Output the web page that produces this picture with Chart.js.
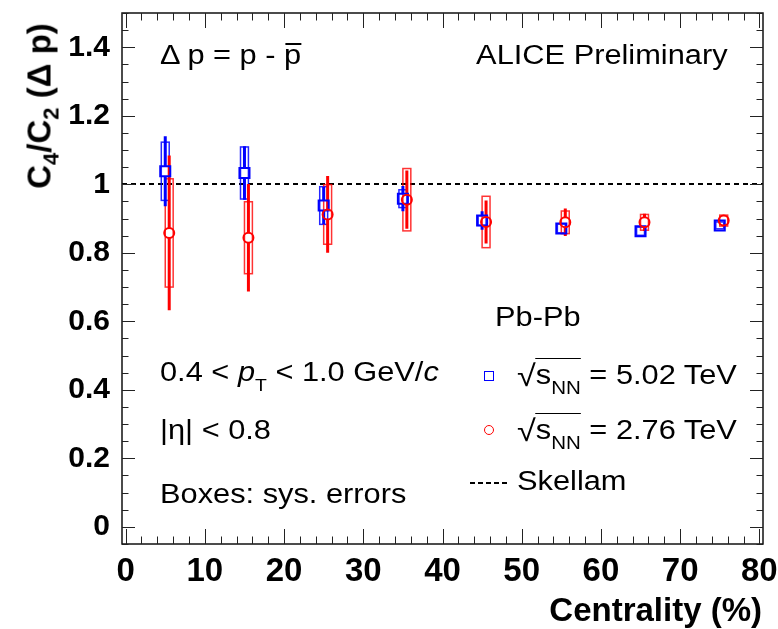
<!DOCTYPE html>
<html><head><meta charset="utf-8">
<script src="https://cdn.jsdelivr.net/npm/chart.js@4.4.1/dist/chart.umd.min.js"></script>
<style>
html,body{margin:0;padding:0;background:#fff;}
#wrap{position:relative;width:778px;height:629px;overflow:hidden;font-family:"Liberation Sans",Arial,Helvetica,sans-serif;color:#000;}
canvas{position:absolute;left:0;top:0;}
.t{position:absolute;white-space:nowrap;line-height:1;font-size:27px;transform:scaleX(1.14);transform-origin:left center;}
.r{transform-origin:right center;}
.sub{font-size:18px;position:relative;top:10px;}
.ovl{border-top:1.5px solid #000;padding-top:1px;}
.rad{font-size:30px;position:relative;top:2px;}
#ytitle{position:absolute;left:39px;top:106px;white-space:nowrap;line-height:1;font-size:33px;font-weight:bold;transform:translate(-50%,-50%) rotate(-90deg);}
#xtitle{position:absolute;right:16px;top:593px;white-space:nowrap;line-height:1;font-size:33px;font-weight:bold;}
.ysub{font-size:22px;position:relative;top:8px;}
#lg502{position:absolute;left:484px;top:371px;width:8px;height:8px;border:1.5px solid #0000ff;}
#lg276{position:absolute;left:484px;top:425px;width:8px;height:8px;border:1.5px solid #ff0000;border-radius:50%;}
#lgsk{position:absolute;left:470px;top:482px;width:38px;height:2px;background:repeating-linear-gradient(to right,#000 0 5px,transparent 5px 8px);}
</style></head>
<body><div id="wrap">
<canvas id="c" width="778" height="629"></canvas>
<div class="t" style="left:160px;top:42px;">&Delta; p = p - <span style="position:relative;">p<span style="position:absolute;left:1px;right:0;top:3px;border-top:2px solid #000;"></span></span></div>
<div class="t r" style="right:50px;top:42px;">ALICE Preliminary</div>
<div class="t" style="left:160px;top:359px;">0.4 &lt; <i>p</i><span style="font-size:17px;position:relative;top:10px;">T</span> &lt; 1.0 GeV/<i>c</i></div>
<div class="t" style="left:160px;top:417px;">|&eta;| &lt; 0.8</div>
<div class="t" style="left:160px;top:481px;">Boxes: sys. errors</div>
<div class="t" style="left:495px;top:304px;">Pb-Pb</div>
<div class="t" style="left:517px;top:359px;"><span class="rad">&radic;</span><span class="ovl">s<span class="sub">NN</span></span> = 5.02 TeV</div>
<div class="t" style="left:517px;top:414px;"><span class="rad">&radic;</span><span class="ovl">s<span class="sub">NN</span></span> = 2.76 TeV</div>
<div class="t" style="left:517px;top:468px;">Skellam</div>
<div id="lg502"></div><div id="lg276"></div><div id="lgsk"></div>
<div id="ytitle">C<span class="ysub">4</span>/C<span class="ysub">2</span> (&Delta; p)</div>
<div id="xtitle">Centrality (%)</div>
</div>
<script>
// ---- data ----
const centrality502 = [5, 15, 25, 35, 45, 55, 65, 75];
const centrality276 = [5.5, 15.5, 25.5, 35.5, 45.5, 55.5, 65.5, 75.5];
const ratio502 = [1.038, 1.033, 0.938, 0.958, 0.894, 0.871, 0.863, 0.880];
const stat502  = [0.102, 0.078, 0.055, 0.037, 0.027, 0.012, 0.010, 0.008];
const sys502   = [0.085, 0.076, 0.055, 0.026, 0.014, 0.013, 0.012, 0.010];
const ratio276 = [0.858, 0.844, 0.912, 0.955, 0.890, 0.889, 0.889, 0.894];
const stat276  = [0.226, 0.157, 0.112, 0.085, 0.063, 0.040, 0.025, 0.011];
const sys276   = [0.158, 0.105, 0.087, 0.091, 0.075, 0.033, 0.023, 0.016];
const skellamValue = 1;
const xTickValues = [0, 10, 20, 30, 40, 50, 60, 70, 80];
const xTickLabels = ['0', '10', '20', '30', '40', '50', '60', '70', '80'];
const yTickValues = [0, 0.2, 0.4, 0.6, 0.8, 1.0, 1.2, 1.4];
const yTickLabels = ['0', '0.2', '0.4', '0.6', '0.8', '1', '1.2', '1.4'];

const FONT = '"Liberation Sans", Arial, Helvetica, sans-serif';
const BLUE = '#0000ff', RED = '#ff0000';

const errPlugin = {
  id: 'errs',
  beforeDatasetsDraw(chart) {
    const {ctx, chartArea: a, scales: {x, y}} = chart;
    ctx.save();
    ctx.beginPath(); ctx.rect(a.left, a.top, a.right - a.left, a.bottom - a.top); ctx.clip();
    // Skellam baseline
    ctx.strokeStyle = '#000'; ctx.lineWidth = 2; ctx.setLineDash([5, 4]);
    const ys = Math.round(y.getPixelForValue(skellamValue));
    ctx.beginPath(); ctx.moveTo(a.left, ys); ctx.lineTo(a.right, ys); ctx.stroke();
    ctx.setLineDash([]);
    const series = [
      {xs: centrality502, v: ratio502, st: stat502, sy: sys502, c: BLUE, box: 'rgba(0,0,255,0.85)'},
      {xs: centrality276, v: ratio276, st: stat276, sy: sys276, c: RED, box: 'rgba(255,0,0,0.8)'}
    ];
    const gap = 5;
    series.forEach(s => {
      s.xs.forEach((cx, i) => {
        const x0 = x.getPixelForValue(cx - 0.5), x1 = x.getPixelForValue(cx + 0.5);
        const yt = y.getPixelForValue(s.v[i] + s.sy[i]), yb = y.getPixelForValue(s.v[i] - s.sy[i]);
        ctx.strokeStyle = s.box; ctx.lineWidth = 1.5;
        ctx.strokeRect(x0, yt, x1 - x0, yb - yt);
      });
    });
    series.forEach(s => {
      s.xs.forEach((cx, i) => {
        const px = x.getPixelForValue(cx);
        const pc = y.getPixelForValue(s.v[i]);
        const st = y.getPixelForValue(s.v[i] + s.st[i]), sb = y.getPixelForValue(s.v[i] - s.st[i]);
        ctx.strokeStyle = s.c; ctx.lineWidth = 3;
        ctx.beginPath();
        if (pc - st > gap) { ctx.moveTo(px, st); ctx.lineTo(px, pc - gap); }
        if (sb - pc > gap) { ctx.moveTo(px, pc + gap); ctx.lineTo(px, sb); }
        ctx.stroke();
      });
    });
    ctx.restore();
  },
  afterDraw(chart) {
    const {ctx, chartArea: a, scales: {x, y}} = chart;
    ctx.save();
    ctx.strokeStyle = '#111'; ctx.lineWidth = 1.5;
    ctx.strokeRect(a.left, a.top, a.right - a.left, a.bottom - a.top);
    ctx.lineWidth = 1; ctx.strokeStyle = '#222';
    ctx.beginPath();
    for (let k = -1; k <= 30; k++) {
      const v = k * 0.05;
      if (v < y.min - 1e-9 || v > y.max + 1e-9) continue;
      const py = Math.round(y.getPixelForValue(v)) + 0.5;
      const major = yTickValues.some(t => Math.abs(t - v) < 1e-6);
      const L = major ? 13 : 6.5;
      ctx.moveTo(a.left, py); ctx.lineTo(a.left + L, py);
      ctx.moveTo(a.right, py); ctx.lineTo(a.right - L, py);
    }
    for (let k = 0; k <= 40; k++) {
      const v = k * 2;
      const px = Math.round(x.getPixelForValue(v)) + 0.5;
      const major = xTickValues.includes(v);
      const L = major ? 15 : 7.5;
      ctx.moveTo(px, a.bottom); ctx.lineTo(px, a.bottom - L);
      ctx.moveTo(px, a.top); ctx.lineTo(px, a.top + L);
    }
    ctx.stroke();
    ctx.restore();
  }
};

new Chart(document.getElementById('c').getContext('2d'), {
  type: 'scatter',
  data: {
    datasets: [
      {label: 'sNN = 2.76 TeV', data: centrality276.map((cx, i) => ({x: cx, y: ratio276[i]})),
       pointStyle: 'circle', pointRadius: 5, pointBorderWidth: 2, pointBorderColor: RED, pointBackgroundColor: 'rgba(0,0,0,0)', showLine: false},
      {label: 'sNN = 5.02 TeV', data: centrality502.map((cx, i) => ({x: cx, y: ratio502[i]})),
       pointStyle: 'rect', pointRadius: 7.1, pointBorderWidth: 2, pointBorderColor: BLUE, pointBackgroundColor: 'rgba(0,0,0,0)', showLine: false}
    ]
  },
  options: {
    responsive: false, animation: false, devicePixelRatio: 1,
    layout: {padding: {left: 0, right: 15, top: 13, bottom: 0}},
    plugins: {legend: {display: false}, tooltip: {enabled: false}},
    scales: {
      x: {
        type: 'linear', min: -0.46, max: 80.46,
        afterBuildTicks: s => { s.ticks = xTickValues.map(v => ({value: v})); },
        afterFit: s => { s.height = 85; s.paddingLeft = 0; s.paddingRight = 0; },
        grid: {display: false, drawTicks: false}, border: {display: false},
        ticks: {autoSkip: false, maxRotation: 0, padding: 8, color: '#000',
          font: {family: FONT, size: 33, weight: 'bold'},
          callback: v => xTickLabels[xTickValues.indexOf(v)]}
      },
      y: {
        type: 'linear', min: -0.05, max: 1.5,
        afterBuildTicks: s => { s.ticks = yTickValues.map(v => ({value: v})); },
        afterFit: s => { s.width = 122; s.paddingTop = 0; s.paddingBottom = 0; },
        grid: {display: false, drawTicks: false}, border: {display: false},
        ticks: {autoSkip: false, padding: 12, color: '#000',
          font: {family: FONT, size: 30, weight: 'bold'},
          callback: v => yTickLabels[yTickValues.findIndex(t => Math.abs(t - v) < 1e-9)]}
      }
    }
  },
  plugins: [errPlugin]
});
</script>
</body></html>
